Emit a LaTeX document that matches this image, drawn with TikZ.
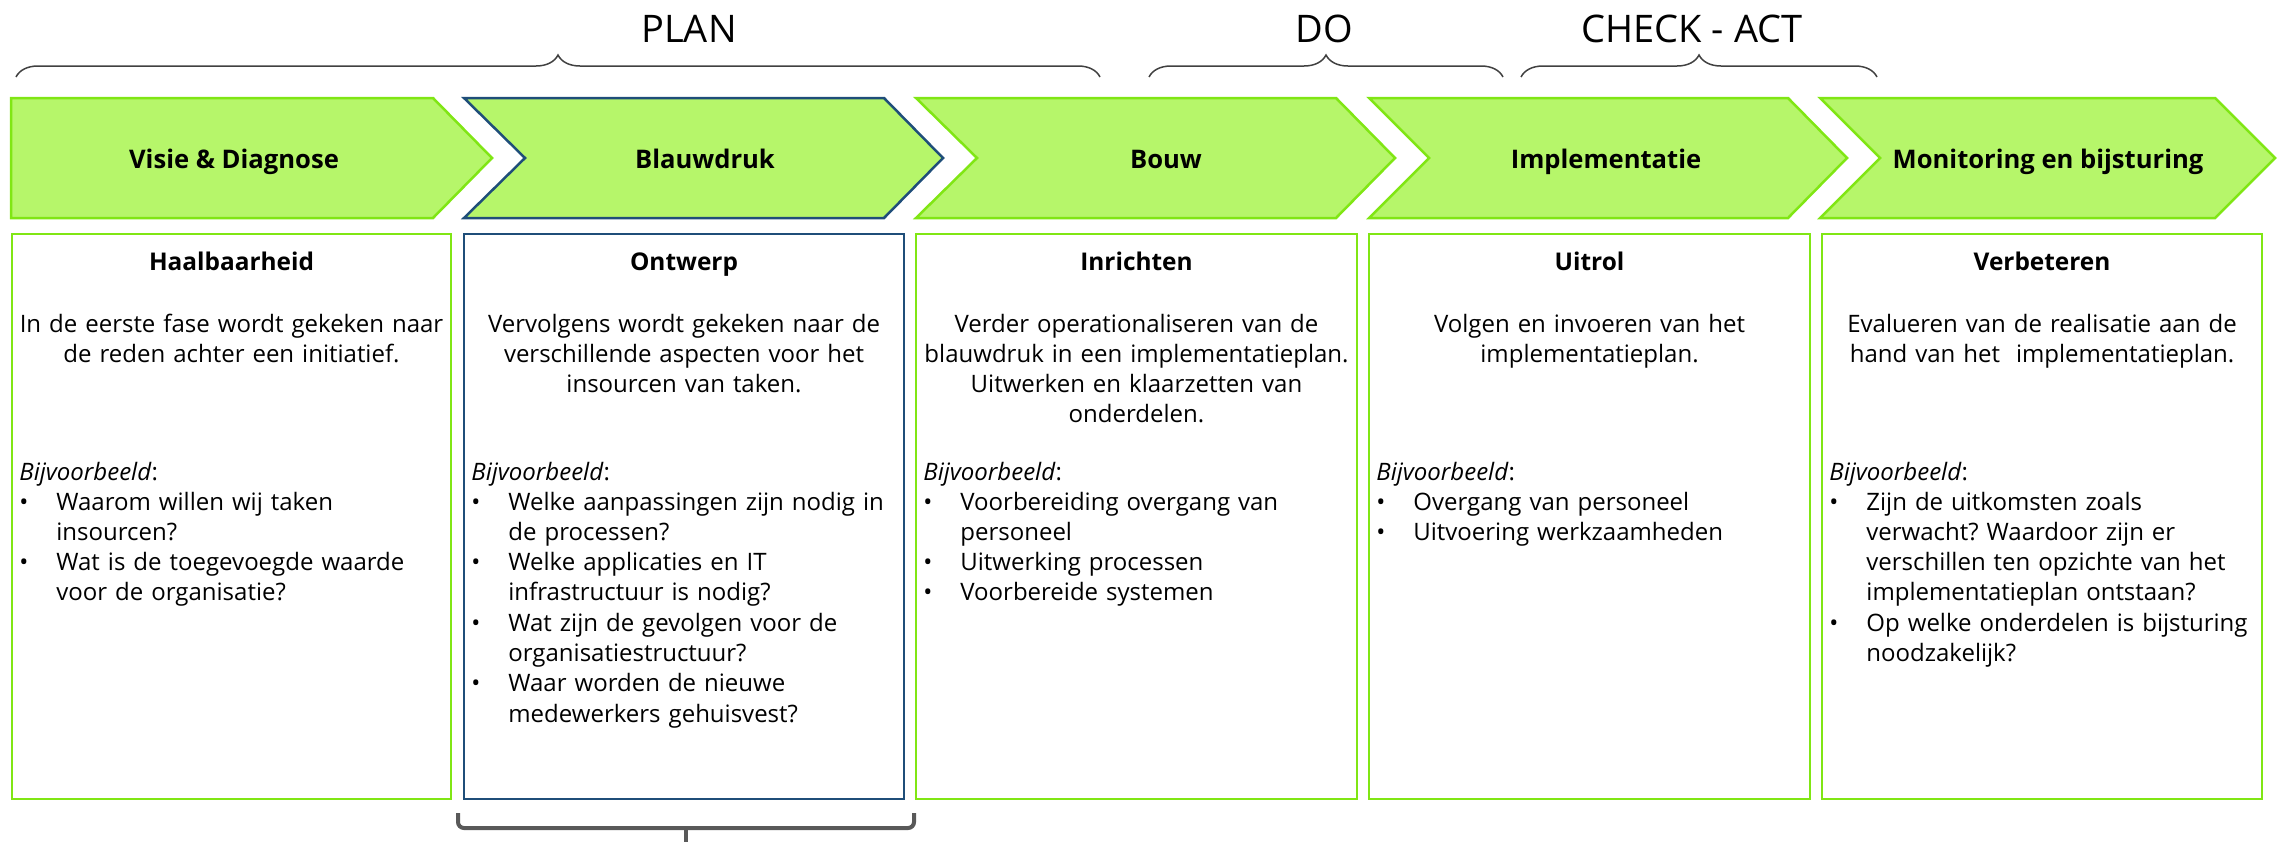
\documentclass[tikz,border=0pt]{standalone}
\usepackage{fontspec}
\setmainfont{Open Sans}
\usetikzlibrary{decorations.pathreplacing}
\frenchspacing

\definecolor{lichtgroen}{RGB}{182,246,106}
\definecolor{groen}{RGB}{128,230,20}
\definecolor{donkerblauw}{RGB}{31,78,121}
\definecolor{haakgrijs}{RGB}{64,64,64}
\definecolor{donkergrijs}{RGB}{89,89,89}

\tikzset{
  chevron/.style={fill=lichtgroen, draw=groen, line width=1.25pt},
  kader/.style={draw=groen, line width=1.25pt},
  haak/.style={draw=haakgrijs, line width=0.75pt, decorate, decoration={brace, amplitude=11pt}},
  onderhaak/.style={draw=donkergrijs, line width=2pt, rounded corners=3pt},
  fase/.style={font=\fontsize{19}{22}\selectfont, inner sep=0pt},
  chevlabel/.style={font=\fontsize{12.8}{15}\selectfont\bfseries, anchor=base, inner sep=0pt},
  titel/.style={font=\fontsize{12.2}{15}\selectfont\bfseries, anchor=base, inner sep=0pt},
  tekst/.style={font=\fontsize{12}{15.15}\selectfont, align=center, text width=219pt, anchor=base, inner sep=0pt},
  vb/.style={font=\fontsize{12}{15.15}\selectfont, anchor=base west, inner sep=0pt},
  punt/.style={font=\fontsize{12}{15.15}\selectfont, anchor=base west, inner sep=0pt},
  item/.style={font=\fontsize{12}{15.15}\selectfont, align=left, text width=196pt, anchor=base west, inner sep=0pt}
}

\begin{document}
\begin{tikzpicture}[x=0.5pt, y=-0.5pt]
\useasboundingbox (0,0) rectangle (2278,841);

\draw[chevron] (11,98) -- (433,98) -- (492,158) -- (433,218) -- (11,218) -- cycle;
\draw[chevron, draw=donkerblauw] (464,98) -- (884,98) -- (943,158) -- (884,218) -- (464,218) -- (525,158) -- cycle;
\draw[chevron] (916,98) -- (1336,98) -- (1395,158) -- (1336,218) -- (916,218) -- (977,158) -- cycle;
\draw[chevron] (1369,98) -- (1788,98) -- (1847,158) -- (1788,218) -- (1369,218) -- (1429,158) -- cycle;
\draw[chevron] (1820,98) -- (2215,98) -- (2275,158) -- (2215,218) -- (1820,218) -- (1880,158) -- cycle;

\draw[kader] (12,234) rectangle (451,799);
\draw[kader, draw=donkerblauw] (464,234) rectangle (904,799);
\draw[kader] (916,234) rectangle (1357,799);
\draw[kader] (1369,234) rectangle (1810,799);
\draw[kader] (1822,234) rectangle (2262,799);

\path (16,77) coordinate (plan-l)
      (1100,77) coordinate (plan-r)
      (1149,77) coordinate (do-l)
      (1503,77) coordinate (do-r)
      (1521,77) coordinate (ca-l)
      (1877,77) coordinate (ca-r)
      (458,813) coordinate (ontw-l)
      (914,813) coordinate (ontw-r)
      (686,828) coordinate (ontw-m)
      (686,845) coordinate (ontw-s);

\draw[haak] (plan-l) -- (plan-r);
\draw[haak] (do-l) -- (do-r);
\draw[haak] (ca-l) -- (ca-r);
\draw[onderhaak] (ontw-l) |- (ontw-m) -| (ontw-r);
\draw[onderhaak] (ontw-m) -- (ontw-s);

\path (689,29) node[fase] (plan) {PLAN}
      (1324,29) node[fase] (do) {DO}
      (1692,29) node[fase] (checkact) {CHECK - ACT}
      (234,168) node[chevlabel] (visie) {Visie \& Diagnose}
      (705,168) node[chevlabel] (blauwdruk) {Blauwdruk}
      (1166,168) node[chevlabel] (bouw) {Bouw}
      (1606,168) node[chevlabel] (impl) {Implementatie}
      (2048,168) node[chevlabel] (monitor) {Monitoring en bijsturing};

\path (231.5,270) node[titel] (haal) {Haalbaarheid}
      (231.5,332) node[tekst] (haal-t) {In de eerste fase wordt gekeken naar\\de reden achter een initiatief.}
      (19,480) node[vb] (haal-vb) {\textit{Bijvoorbeeld}:}
      (19,510) node[punt] (haal-p1) {•}
      (56,510) node[item] (haal-1) {Waarom willen wij taken\\insourcen?}
      (19,570.6) node[punt] (haal-p2) {•}
      (56,570.6) node[item] (haal-2) {Wat is de toegevoegde waarde\\voor de organisatie?};

\path (684,270) node[titel] (ontw) {Ontwerp}
      (684,332) node[tekst] (ontw-t) {Vervolgens wordt gekeken naar de\\verschillende aspecten voor het\\insourcen van taken.}
      (471,480) node[vb] (ontw-vb) {\textit{Bijvoorbeeld}:}
      (471,510) node[punt] (ontw-p1) {•}
      (508,510) node[item] (ontw-1) {Welke aanpassingen zijn nodig in\\de processen?}
      (471,570.6) node[punt] (ontw-p2) {•}
      (508,570.6) node[item] (ontw-2) {Welke applicaties en IT\\infrastructuur is nodig?}
      (471,631.2) node[punt] (ontw-p3) {•}
      (508,631.2) node[item] (ontw-3) {Wat zijn de gevolgen voor de\\organisatiestructuur?}
      (471,691.8) node[punt] (ontw-p4) {•}
      (508,691.8) node[item] (ontw-4) {Waar worden de nieuwe\\medewerkers gehuisvest?};

\path (1136.5,270) node[titel] (inr) {Inrichten}
      (1136.5,332) node[tekst] (inr-t) {Verder operationaliseren van de\\blauwdruk in een implementatieplan.\\Uitwerken en klaarzetten van\\onderdelen.}
      (923,480) node[vb] (inr-vb) {\textit{Bijvoorbeeld}:}
      (923,510) node[punt] (inr-p1) {•}
      (960,510) node[item] (inr-1) {Voorbereiding overgang van\\personeel}
      (923,570.6) node[punt] (inr-p2) {•}
      (960,570.6) node[item] (inr-2) {Uitwerking processen}
      (923,600.9) node[punt] (inr-p3) {•}
      (960,600.9) node[item] (inr-3) {Voorbereide systemen};

\path (1589.5,270) node[titel] (uit) {Uitrol}
      (1589.5,332) node[tekst] (uit-t) {Volgen en invoeren van het\\implementatieplan.}
      (1376,480) node[vb] (uit-vb) {\textit{Bijvoorbeeld}:}
      (1376,510) node[punt] (uit-p1) {•}
      (1413,510) node[item] (uit-1) {Overgang van personeel}
      (1376,540.3) node[punt] (uit-p2) {•}
      (1413,540.3) node[item] (uit-2) {Uitvoering werkzaamheden};

\path (2042,270) node[titel] (verb) {Verbeteren}
      (2042,332) node[tekst] (verb-t) {Evalueren van de realisatie aan de\\hand van het\ \ implementatieplan.}
      (1829,480) node[vb] (verb-vb) {\textit{Bijvoorbeeld}:}
      (1829,510) node[punt] (verb-p1) {•}
      (1866,510) node[item] (verb-1) {Zijn de uitkomsten zoals\\verwacht? Waardoor zijn er\\verschillen ten opzichte van het\\implementatieplan ontstaan?}
      (1829,631.2) node[punt] (verb-p2) {•}
      (1866,631.2) node[item] (verb-2) {Op welke onderdelen is bijsturing\\noodzakelijk?};
\end{tikzpicture}
\end{document}
